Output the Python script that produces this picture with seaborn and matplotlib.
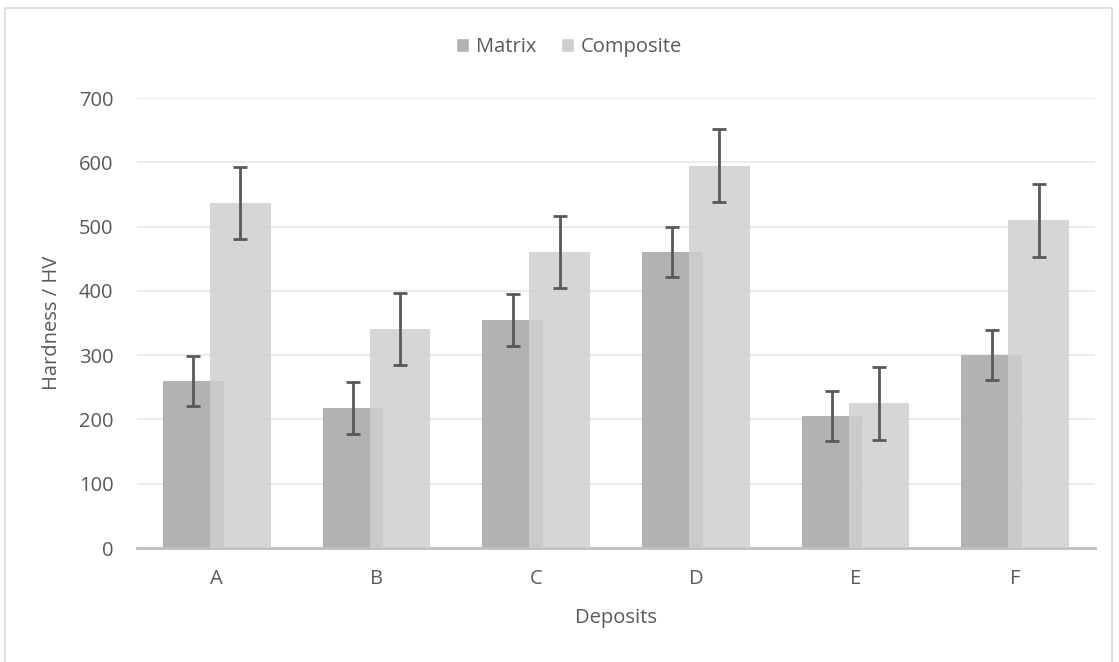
import pandas as pd
import numpy as np
import matplotlib
matplotlib.use("Agg")
import matplotlib.pyplot as plt
import seaborn as sns
from matplotlib.patches import Rectangle

# Data
deposits = ["A", "B", "C", "D", "E", "F"]
matrix_hv = [260, 218, 355, 460, 205, 300]
composite_hv = [536, 340, 460, 595, 225, 510]
matrix_err = [39, 40, 40, 39, 39, 39]
composite_err = [56, 56, 56, 57, 57, 57]
series = ["Matrix", "Composite"]

df = pd.DataFrame({
    "Deposits": deposits * 2,
    "Hardness": matrix_hv + composite_hv,
    "Series": [series[0]] * len(deposits) + [series[1]] * len(deposits),
})
errs = {series[0]: matrix_err, series[1]: composite_err}

sns.set_theme(style="white")
plt.rcParams["font.family"] = ["Open Sans", "DejaVu Sans"]
text_col = "#595959"
fs = 14.5

fig = plt.figure(figsize=(11.19, 6.62), dpi=100)
ax = fig.add_axes([137 / 1119, 1 - 548 / 662, (1095 - 137) / 1119, (548 - 98) / 662])

# outer chart border
fig.patches.append(Rectangle((5 / 1119, -0.05), (1112 - 5) / 1119, 1.05 - 8 / 662,
                             transform=fig.transFigure, fill=False,
                             edgecolor="#d9d9d9", linewidth=1.2, zorder=0))

palette = {"Matrix": "#b2b2b2", "Composite": "#cfcfcf"}
sns.barplot(data=df, x="Deposits", y="Hardness", hue="Series", palette=palette,
            width=0.59, dodge=True, ax=ax, saturation=1, errorbar=None, legend=True)

# widen bars so they overlap like the original
bar_w = 0.38
n = len(deposits)
for i, patch in enumerate(ax.patches[:2 * n]):
    cx = patch.get_x() + patch.get_width() / 2
    patch.set_width(bar_w)
    patch.set_x(cx - bar_w / 2)
    patch.set_edgecolor("none")
    if i >= n:
        patch.set_alpha(0.85)
        patch.set_zorder(3)
    else:
        patch.set_zorder(2)

for k, s in enumerate(series):
    bars = ax.patches[k * n:(k + 1) * n]
    xs = [b.get_x() + b.get_width() / 2 for b in bars]
    ys = [b.get_height() for b in bars]
    ax.errorbar(xs, ys, yerr=errs[s], fmt="none", ecolor="#595959",
                elinewidth=2, capsize=4.7, capthick=2, zorder=5)

ax.set_xlim(-0.5, 5.5)
ax.set_ylim(0, 700)
ax.set_yticks(range(0, 701, 100))
ax.yaxis.grid(True, color="#e8e8e8", linewidth=1.2)
ax.set_axisbelow(True)
for side in ["left", "right", "top"]:
    ax.spines[side].set_visible(False)
ax.spines["bottom"].set_color("#bfbfbf")
ax.spines["bottom"].set_linewidth(2)
ax.tick_params(axis="both", length=0, labelsize=fs, colors=text_col)
ax.tick_params(axis="x", pad=15)
ax.tick_params(axis="y", pad=17)
ax.set_xlabel("Deposits", fontsize=fs, color=text_col, labelpad=14)
ax.set_ylabel("Hardness / HV", fontsize=fs, color=text_col, labelpad=12)

handles, labels = ax.get_legend_handles_labels()
ax.get_legend().remove()
fig.legend(handles, labels, loc="center", bbox_to_anchor=(569 / 1119, 1 - 47 / 662), ncol=2,
           frameon=False, fontsize=fs, handlelength=0.65, handleheight=0.65,
           handletextpad=0.35, columnspacing=1.2, labelcolor=text_col)

fig.savefig("out.png", dpi=100, facecolor="white")
